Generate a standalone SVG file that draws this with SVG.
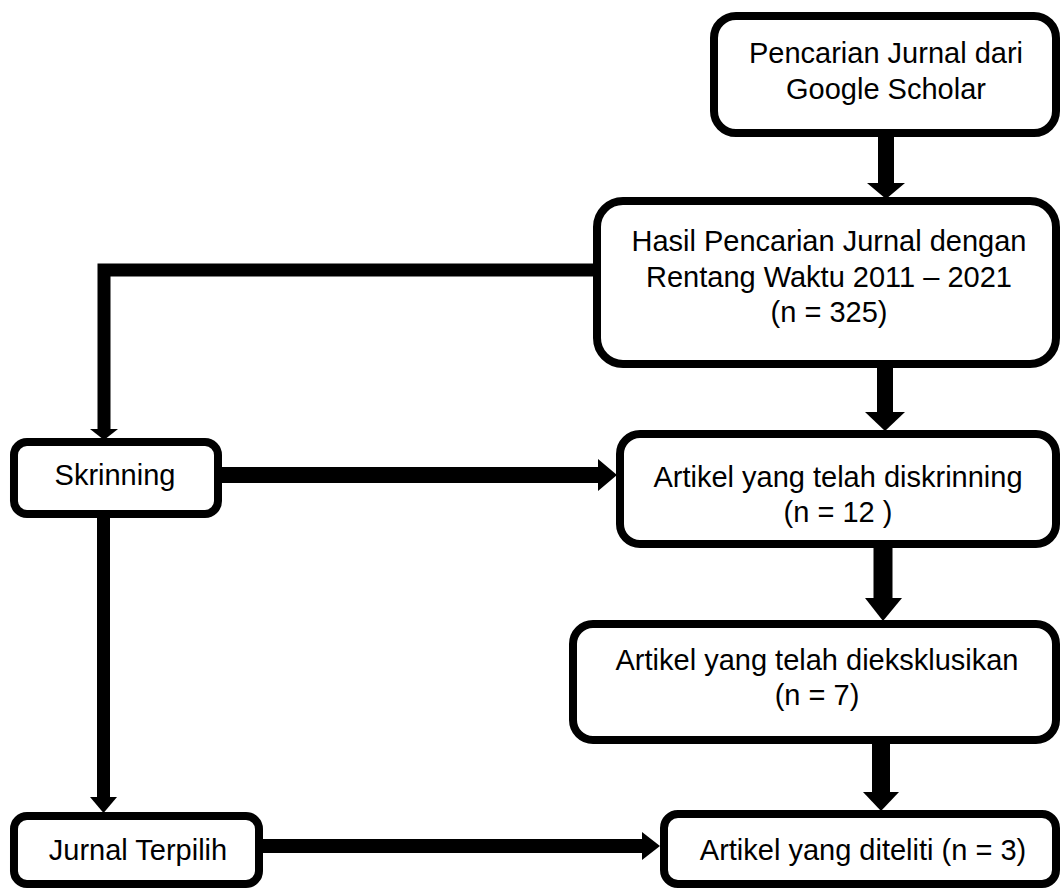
<svg xmlns="http://www.w3.org/2000/svg" width="1060" height="889" viewBox="0 0 1060 889">
<style>
.box{fill:#fff;stroke:#000;stroke-width:8}
.t{font-family:"Liberation Sans",Arial,sans-serif;font-size:29px;fill:#000;text-anchor:middle}
.sh{fill:none;stroke:#000}
.hd{fill:#000}
</style>
<rect width="1060" height="889" fill="#fff"/>
<g id="connectors">
<line class="sh" x1="886" y1="137" x2="886" y2="184" stroke-width="16"/>
<polygon class="hd" points="867,183 905,183 886,199"/>
<line class="sh" x1="885" y1="366" x2="885" y2="413" stroke-width="16"/>
<polygon class="hd" points="865,412 905,412 885,431"/>
<line class="sh" x1="883" y1="546" x2="883" y2="599" stroke-width="19"/>
<polygon class="hd" points="865,598 902,598 883,621"/>
<line class="sh" x1="881" y1="742" x2="881" y2="793" stroke-width="18"/>
<polygon class="hd" points="863,792 899,792 881,811"/>
<polyline class="sh" points="595,270 104,270 104,430" stroke-width="13"/>
<polygon class="hd" points="90,429 118,429 104,440"/>
<line class="sh" x1="222" y1="475" x2="599" y2="475" stroke-width="16"/>
<polygon class="hd" points="598,459 598,491 617,475"/>
<line class="sh" x1="103.5" y1="516" x2="103.5" y2="798" stroke-width="13"/>
<polygon class="hd" points="90,797 117,797 103.5,813"/>
<line class="sh" x1="262" y1="846" x2="643" y2="846" stroke-width="14"/>
<polygon class="hd" points="642,832 642,860 660,846"/>
</g>
<g id="n1">
<rect class="box" x="714" y="16" width="342" height="117" rx="22"/>
<text class="t" x="886" y="63">Pencarian Jurnal dari</text>
<text class="t" x="886" y="99">Google Scholar</text>
</g>
<g id="n2">
<rect class="box" x="597" y="201" width="459" height="163" rx="26"/>
<text class="t" x="829" y="251">Hasil Pencarian Jurnal dengan</text>
<text class="t" x="829" y="287">Rentang Waktu 2011 – 2021</text>
<text class="t" x="829" y="322">(n = 325)</text>
</g>
<g id="n3">
<rect class="box" x="620" y="434" width="436" height="110" rx="20"/>
<text class="t" x="838" y="487">Artikel yang telah diskrinning</text>
<text class="t" x="838" y="522">(n = 12 )</text>
</g>
<g id="n4">
<rect class="box" x="573" y="624" width="483" height="116" rx="20"/>
<text class="t" x="817" y="670">Artikel yang telah dieksklusikan</text>
<text class="t" x="817" y="705">(n = 7)</text>
</g>
<g id="n5">
<rect class="box" x="664" y="814" width="392" height="70" rx="14"/>
<text class="t" x="863" y="860">Artikel yang diteliti (n = 3)</text>
</g>
<g id="n6">
<rect class="box" x="14" y="442" width="204" height="72" rx="13"/>
<text class="t" x="115" y="485">Skrinning</text>
</g>
<g id="n7">
<rect class="box" x="14" y="816" width="245" height="68" rx="13"/>
<text class="t" x="138" y="860">Jurnal Terpilih</text>
</g>
</svg>
